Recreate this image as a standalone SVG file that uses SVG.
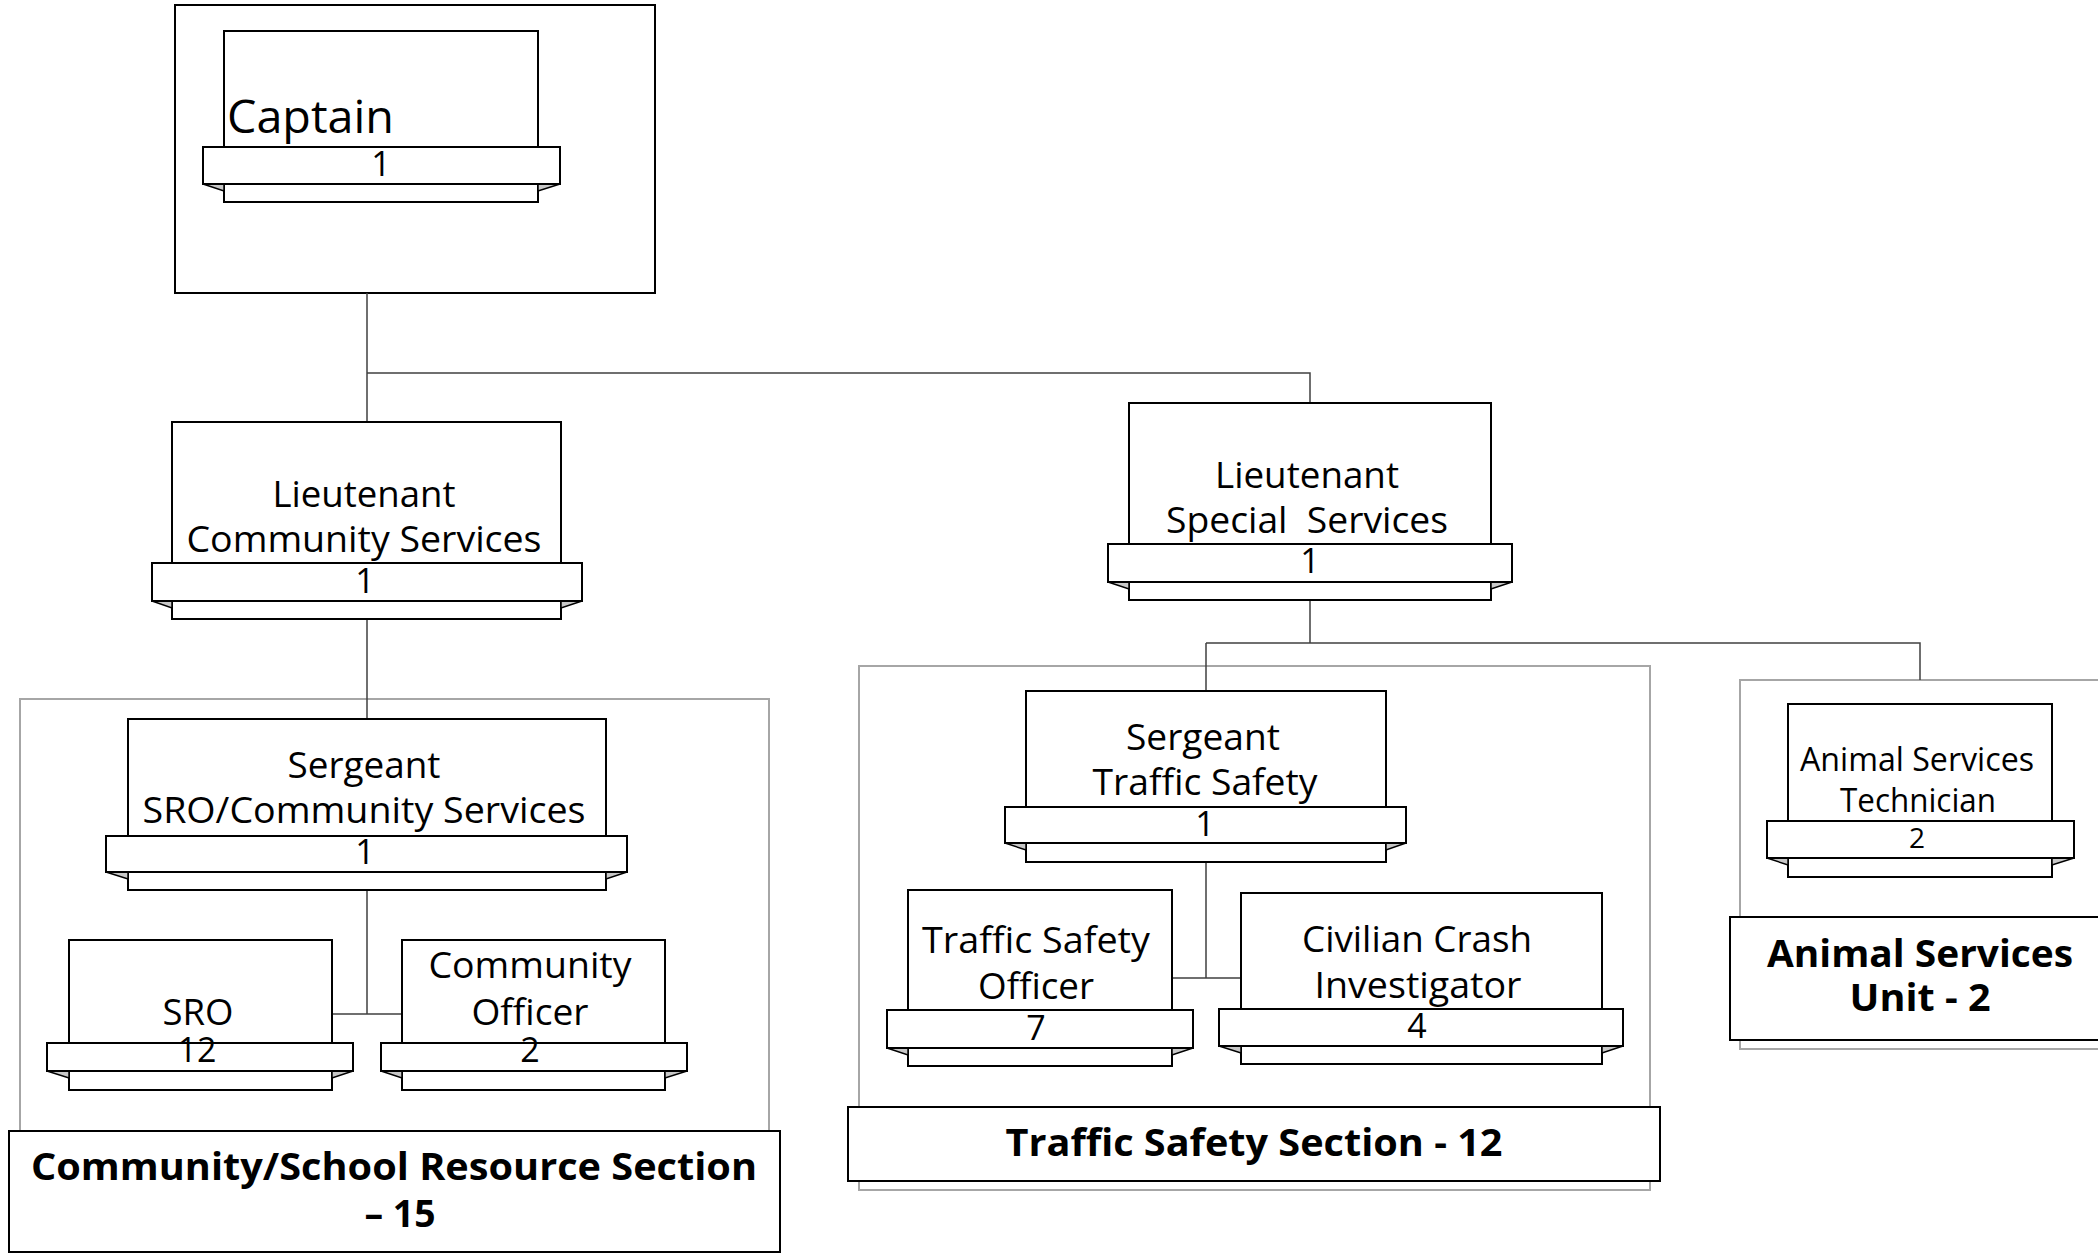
<svg xmlns="http://www.w3.org/2000/svg" width="2098" height="1253" viewBox="0 0 2098 1253">
<style>
.bx{fill:#fff;stroke:#000;stroke-width:2}
.fd{fill:#c8c8c8;stroke:#000;stroke-width:1.5}
.sec{fill:#fff;stroke:#a6a6a6;stroke-width:2}
.lb{fill:#fff;stroke:#000;stroke-width:2}
.cn{fill:none;stroke:#404040;stroke-width:1.5}
.t{font-family:"Open Sans","Noto Sans",sans-serif;font-size:36px;fill:#000;text-anchor:middle}
.n{font-size:34px}
.s{font-size:32px}
.b{font-weight:bold;font-size:38px}
</style>
<rect width="2098" height="1253" fill="#fff"/>
<g id="sections">
<rect class="sec" x="20" y="699" width="749" height="570"/>
<rect class="sec" x="859" y="666" width="791" height="524"/>
<rect class="sec" x="1740" y="680" width="380" height="369"/>
<rect class="bx" x="175" y="5" width="480" height="288"/>
</g>
<g id="connectors">
<path class="cn" d="M367,293V422M367,373H1310V403M367,619V719M367,890V1014M332,1014H402M1310,600V643M1206,643H1920V680M1206,643V691M1206,862V978M1172,978H1241"/>
</g>
<g id="captain">
<rect class="bx" x="224" y="31" width="314" height="116"/>
<rect class="bx" x="224" y="184" width="314" height="18"/>
<polygon class="fd" points="203,184 224,191 224,184"/><polygon class="fd" points="560,184 538,191 538,184"/>
<rect class="bx" x="203" y="147" width="357" height="37"/>
<text class="t" x="227" y="133" style="text-anchor:start;font-size:46px" textLength="167" lengthAdjust="spacingAndGlyphs">Captain</text>
<text class="t n" x="381" y="176">1</text>
</g>
<g id="lt-community">
<rect class="bx" x="172" y="422" width="389" height="141"/>
<rect class="bx" x="172" y="601" width="389" height="18"/>
<polygon class="fd" points="152,601 172,608 172,601"/><polygon class="fd" points="582,601 561,608 561,601"/>
<rect class="bx" x="152" y="563" width="430" height="38"/>
<text class="t" x="364" y="507" textLength="183" lengthAdjust="spacingAndGlyphs">Lieutenant</text>
<text class="t" x="364" y="552" textLength="355" lengthAdjust="spacingAndGlyphs">Community Services</text>
<text class="t n" x="365" y="593">1</text>
</g>
<g id="lt-special">
<rect class="bx" x="1129" y="403" width="362" height="141"/>
<rect class="bx" x="1129" y="582" width="362" height="18"/>
<polygon class="fd" points="1108,582 1129,589 1129,582"/><polygon class="fd" points="1512,582 1491,589 1491,582"/>
<rect class="bx" x="1108" y="544" width="404" height="38"/>
<text class="t" x="1307" y="488" textLength="184" lengthAdjust="spacingAndGlyphs">Lieutenant</text>
<text class="t" x="1307" y="533" xml:space="preserve" textLength="282" lengthAdjust="spacingAndGlyphs">Special  Services</text>
<text class="t n" x="1310" y="573">1</text>
</g>
<g id="sgt-sro">
<rect class="bx" x="128" y="719" width="478" height="117"/>
<rect class="bx" x="128" y="872" width="478" height="18"/>
<polygon class="fd" points="106,872 128,879 128,872"/><polygon class="fd" points="627,872 606,879 606,872"/>
<rect class="bx" x="106" y="836" width="521" height="36"/>
<text class="t" x="364" y="778" textLength="153" lengthAdjust="spacingAndGlyphs">Sergeant</text>
<text class="t" x="364" y="823" textLength="443" lengthAdjust="spacingAndGlyphs">SRO/Community Services</text>
<text class="t n" x="365" y="864">1</text>
</g>
<g id="sro">
<rect class="bx" x="69" y="940" width="263" height="103"/>
<rect class="bx" x="69" y="1071" width="263" height="19"/>
<polygon class="fd" points="47,1071 69,1078 69,1071"/><polygon class="fd" points="353,1071 332,1078 332,1071"/>
<rect class="bx" x="47" y="1043" width="306" height="28"/>
<text class="t" x="198" y="1025" textLength="71" lengthAdjust="spacingAndGlyphs">SRO</text>
<text class="t n" x="197" y="1062">12</text>
</g>
<g id="community-officer">
<rect class="bx" x="402" y="940" width="263" height="103"/>
<rect class="bx" x="402" y="1071" width="263" height="19"/>
<polygon class="fd" points="381,1071 402,1078 402,1071"/><polygon class="fd" points="687,1071 665,1078 665,1071"/>
<rect class="bx" x="381" y="1043" width="306" height="28"/>
<text class="t" x="530" y="978" textLength="203" lengthAdjust="spacingAndGlyphs">Community</text>
<text class="t" x="530" y="1025" textLength="117" lengthAdjust="spacingAndGlyphs">Officer</text>
<text class="t n" x="530" y="1062">2</text>
</g>
<g id="sgt-traffic">
<rect class="bx" x="1026" y="691" width="360" height="116"/>
<rect class="bx" x="1026" y="843" width="360" height="19"/>
<polygon class="fd" points="1005,843 1026,850 1026,843"/><polygon class="fd" points="1406,843 1386,850 1386,843"/>
<rect class="bx" x="1005" y="807" width="401" height="36"/>
<text class="t" x="1203" y="750" textLength="154" lengthAdjust="spacingAndGlyphs">Sergeant</text>
<text class="t" x="1205" y="795" textLength="225" lengthAdjust="spacingAndGlyphs">Traffic Safety</text>
<text class="t n" x="1205" y="836">1</text>
</g>
<g id="traffic-officer">
<rect class="bx" x="908" y="890" width="264" height="120"/>
<rect class="bx" x="908" y="1048" width="264" height="18"/>
<polygon class="fd" points="887,1048 908,1055 908,1048"/><polygon class="fd" points="1193,1048 1172,1055 1172,1048"/>
<rect class="bx" x="887" y="1010" width="306" height="38"/>
<text class="t" x="1036" y="953" textLength="228" lengthAdjust="spacingAndGlyphs">Traffic Safety</text>
<text class="t" x="1036" y="999" textLength="116" lengthAdjust="spacingAndGlyphs">Officer</text>
<text class="t n" x="1036" y="1040">7</text>
</g>
<g id="crash-investigator">
<rect class="bx" x="1241" y="893" width="361" height="116"/>
<rect class="bx" x="1241" y="1046" width="361" height="18"/>
<polygon class="fd" points="1219,1046 1241,1053 1241,1046"/><polygon class="fd" points="1623,1046 1602,1053 1602,1046"/>
<rect class="bx" x="1219" y="1009" width="404" height="37"/>
<text class="t" x="1417" y="952" textLength="230" lengthAdjust="spacingAndGlyphs">Civilian Crash</text>
<text class="t" x="1418" y="998" textLength="207" lengthAdjust="spacingAndGlyphs">Investigator</text>
<text class="t n" x="1417" y="1038">4</text>
</g>
<g id="animal-tech">
<rect class="bx" x="1788" y="704" width="264" height="117"/>
<rect class="bx" x="1788" y="858" width="264" height="19"/>
<polygon class="fd" points="1767,858 1788,865 1788,858"/><polygon class="fd" points="2074,858 2052,865 2052,858"/>
<rect class="bx" x="1767" y="821" width="307" height="37"/>
<text class="t s" x="1917" y="771" textLength="234" lengthAdjust="spacingAndGlyphs">Animal Services</text>
<text class="t s" x="1918" y="812" textLength="156" lengthAdjust="spacingAndGlyphs">Technician</text>
<text class="t" x="1917" y="848" style="font-size:28px">2</text>
</g>
<g id="label-community">
<rect class="lb" x="9" y="1131" width="771" height="121"/>
<text class="t b" x="394" y="1180" textLength="726" lengthAdjust="spacingAndGlyphs">Community/School Resource Section</text>
<text class="t b" x="400" y="1227" textLength="71" lengthAdjust="spacingAndGlyphs">– 15</text>
</g>
<g id="label-traffic">
<rect class="lb" x="848" y="1107" width="812" height="74"/>
<text class="t b" x="1254" y="1156" textLength="497" lengthAdjust="spacingAndGlyphs">Traffic Safety Section - 12</text>
</g>
<g id="label-animal">
<rect class="lb" x="1730" y="917" width="390" height="123"/>
<text class="t b" x="1920" y="967" textLength="306" lengthAdjust="spacingAndGlyphs">Animal Services</text>
<text class="t b" x="1920" y="1011" textLength="141" lengthAdjust="spacingAndGlyphs">Unit - 2</text>
</g>
</svg>
